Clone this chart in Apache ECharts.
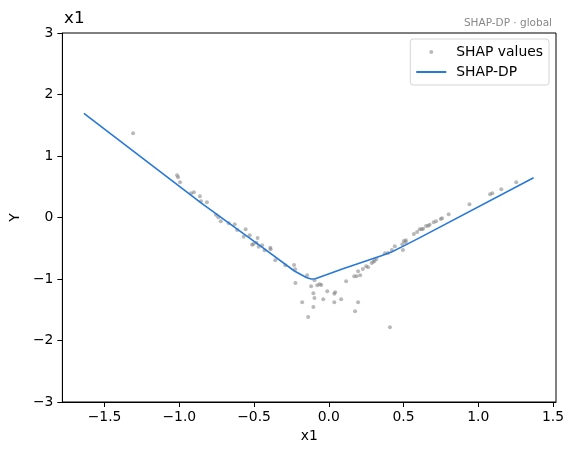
<!DOCTYPE html>
<html>
<head>
<meta charset="utf-8">
<script src="https://cdn.jsdelivr.net/npm/echarts@6/dist/echarts.min.js"></script>
<style>
  html, body { margin: 0; padding: 0; background: #fff; }
  #main { width: 573px; height: 455px; }
</style>
</head>
<body>
<div id="main"></div>
<script>
// SHAP values (x1, Y)
var shapX = [-1.309, -1.015, -1.008, -0.995, -0.921, -0.902, -0.862, -0.855, -0.815, -0.755,
  -0.739, -0.722, -0.669, -0.629, -0.613, -0.556, -0.569, -0.529, -0.513, -0.504,
  -0.476, -0.469, -0.484, -0.446, -0.429, -0.391, -0.389, -0.358, -0.291, -0.232,
  -0.225, -0.223, -0.178, -0.145, -0.138, -0.118, -0.103, -0.096, -0.096, -0.103,
  -0.077, -0.061, -0.050, -0.037, -0.010, 0.037, 0.043, 0.037, 0.083, 0.116,
  0.170, 0.186, 0.210, 0.196, 0.196, 0.176, 0.228, 0.250, 0.263, 0.287,
  0.299, 0.307, 0.319, 0.376, 0.396, 0.422, 0.442, 0.409, 0.492, 0.496,
  0.502, 0.516, 0.514, 0.569, 0.591, 0.609, 0.622, 0.631, 0.651, 0.665,
  0.675, 0.702, 0.718, 0.749, 0.758, 0.802, 0.941, 1.079, 1.094, 1.154, 1.254];
var shapY = [1.369, 0.686, 0.654, 0.572, 0.393, 0.410, 0.345, 0.263, 0.247, 0.046,
  0.003, -0.062, -0.094, -0.111, -0.203, -0.192, -0.312, -0.289, -0.442, -0.431,
  -0.333, -0.475, -0.410, -0.452, -0.533, -0.491, -0.517, -0.696, -0.777, -0.772,
  -0.842, -1.065, -1.379, -0.940, -1.618, -1.119, -1.233, -1.021, -1.309, -1.455,
  -1.102, -1.086, -1.098, -1.330, -1.200, -1.239, -1.216, -1.379, -1.330, -1.037,
  -0.956, -0.956, -0.940, -0.875, -1.379, -1.525, -0.837, -0.793, -0.810, -0.740,
  -0.719, -0.702, -0.675, -0.582, -0.577, -0.528, -0.468, -1.785, -0.436, -0.528,
  -0.382, -0.371, -0.403, -0.268, -0.236, -0.192, -0.192, -0.182, -0.138, -0.133,
  -0.117, -0.078, -0.062, -0.024, -0.013, 0.052, 0.215, 0.377, 0.393, 0.459, 0.572];

// SHAP-DP curve
var dpX = [-1.638, -0.850, -0.451, -0.230, -0.150, -0.118, -0.090, 0.100, 0.347, 0.420, 0.492, 0.600, 1.370];
var dpY = [1.694, 0.231, -0.475, -0.870, -0.975, -1.000, -0.995, -0.830, -0.626, -0.560, -0.474, -0.340, 0.647];

var xTicks = [-1.5, -1.0, -0.5, 0.0, 0.5, 1.0, 1.5];

var FONT = 'DejaVu Sans';
var FS = 13.9;

function fmt(v, d) {
  var s = Math.abs(v).toFixed(d);
  return v < 0 ? '\u2212' + s : s;
}

var chart = echarts.init(document.getElementById('main'));

var option = {
  animation: false,
  backgroundColor: '#fff',
  textStyle: { fontFamily: FONT },
  title: [
    {
      text: 'x1',
      left: 59,
      top: 5,
      textStyle: { fontFamily: FONT, fontSize: 16.7, fontWeight: 'normal', color: '#000' }
    },
    {
      text: 'SHAP-DP \u00b7 global',
      right: 16,
      top: 13,
      textStyle: { fontFamily: FONT, fontSize: 10.5, fontWeight: 'normal', color: '#888' }
    }
  ],
  legend: {
    orient: 'vertical',
    right: 24,
    top: 39,
    padding: [6, 6, 6, 5],
    itemGap: 6,
    itemWidth: 30,
    itemHeight: 4,
    backgroundColor: '#fff',
    borderColor: '#d5d5d5',
    borderWidth: 1,
    borderRadius: 3,
    textStyle: { fontFamily: FONT, fontSize: FS, color: '#000', padding: [0, 0, 0, 5] },
    data: [
      { name: 'SHAP values', icon: 'circle' },
      { name: 'SHAP-DP', itemStyle: { opacity: 0 } }
    ]
  },
  grid: {
    left: 60,
    right: 17,
    top: 33,
    bottom: 53,
    show: true,
    borderColor: '#000',
    borderWidth: 1
  },
  xAxis: {
    type: 'value',
    min: -1.782,
    max: 1.52,
    name: 'x1',
    nameLocation: 'middle',
    nameGap: 27,
    nameTextStyle: { fontFamily: FONT, fontSize: FS, color: '#000' },
    splitLine: { show: false },
    axisLine: { onZero: false, lineStyle: { color: '#000', width: 1 } },
    axisTick: { show: true, length: 5, lineStyle: { color: '#000' }, customValues: xTicks },
    axisLabel: {
      customValues: xTicks,
      margin: 8,
      fontFamily: FONT,
      fontSize: FS,
      color: '#000',
      formatter: function (v) { return fmt(v, 1); }
    }
  },
  yAxis: {
    type: 'value',
    min: -3,
    max: 3,
    interval: 1,
    name: 'Y',
    nameLocation: 'middle',
    nameGap: 40,
    nameRotate: 90,
    nameTextStyle: { fontFamily: FONT, fontSize: FS, color: '#000' },
    splitLine: { show: false },
    axisLine: { show: true, onZero: false, lineStyle: { color: '#000', width: 1 } },
    axisTick: { show: true, length: 5, lineStyle: { color: '#000' } },
    axisLabel: {
      margin: 9,
      fontFamily: FONT,
      fontSize: FS,
      color: '#000',
      formatter: function (v) { return fmt(v, 0); }
    }
  },
  series: [
    {
      name: 'SHAP values',
      type: 'scatter',
      symbol: 'circle',
      symbolSize: 4,
      itemStyle: { color: 'rgba(120,120,120,0.65)' },
      data: shapX.map(function (x, i) { return [x, shapY[i]]; }),
      z: 2
    },
    {
      name: 'SHAP-DP',
      type: 'line',
      symbol: 'none',
      smooth: false,
      lineStyle: { color: '#2878d8', width: 1.6 },
      itemStyle: { color: '#2878d8' },
      data: dpX.map(function (x, i) { return [x, dpY[i]]; }),
      z: 3
    }
  ]
};

chart.setOption(option);
</script>
</body>
</html>
